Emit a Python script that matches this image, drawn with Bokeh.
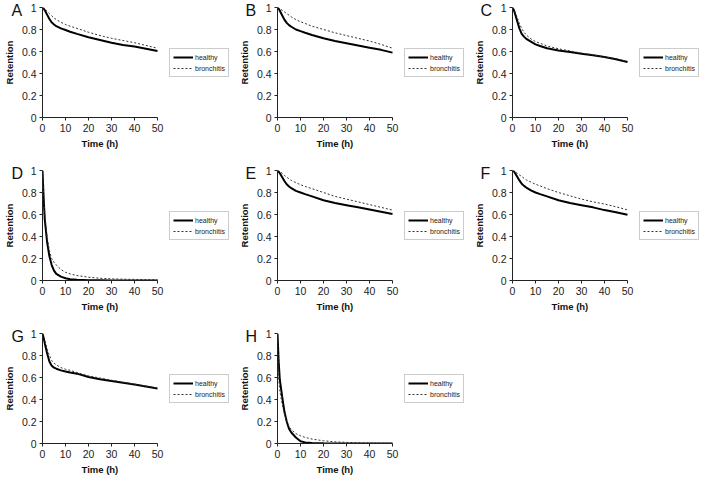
from bokeh.plotting import figure
from bokeh.models import Legend, LegendItem, FixedTicker, NumeralTickFormatter, Range1d, Title
from bokeh.layouts import column, row
from bokeh.embed import file_html
from bokeh.resources import INLINE

# ---------------- data ----------------
TIME = [0, 0.5, 1, 2, 3, 4, 5, 6, 8, 10, 12, 15, 20, 25, 30, 35, 40, 45, 50]
PANELS = ["A", "B", "C", "D", "E", "F", "G", "H"]
SERIES_NAMES = ["healthy", "bronchitis"]
X_TICKS = [0, 10, 20, 30, 40, 50]
Y_TICKS = [0, 0.2, 0.4, 0.6, 0.8, 1.0]
X_MAX = 50
X_LABEL = "Time (h)"
Y_LABEL = "Retention"

A_healthy = [1.0, 0.99, 0.975, 0.935, 0.895, 0.865, 0.845, 0.83, 0.81, 0.795, 0.78, 0.76, 0.73, 0.705, 0.68, 0.66, 0.645, 0.625, 0.605]
A_bronchitis = [1.0, 0.993, 0.985, 0.965, 0.945, 0.925, 0.905, 0.89, 0.865, 0.845, 0.83, 0.81, 0.775, 0.745, 0.72, 0.70, 0.68, 0.655, 0.63]
B_healthy = [1.0, 0.99, 0.97, 0.93, 0.89, 0.86, 0.84, 0.825, 0.80, 0.785, 0.77, 0.75, 0.72, 0.695, 0.675, 0.655, 0.635, 0.615, 0.59]
B_bronchitis = [1.0, 0.995, 0.99, 0.975, 0.96, 0.945, 0.93, 0.915, 0.89, 0.87, 0.855, 0.83, 0.80, 0.77, 0.745, 0.72, 0.695, 0.665, 0.63]
C_healthy = [1.0, 0.98, 0.95, 0.88, 0.81, 0.76, 0.735, 0.715, 0.69, 0.665, 0.65, 0.63, 0.61, 0.595, 0.58, 0.565, 0.55, 0.53, 0.505]
C_bronchitis = [1.0, 0.985, 0.965, 0.91, 0.855, 0.81, 0.775, 0.75, 0.715, 0.69, 0.675, 0.65, 0.625, 0.605, 0.585, 0.57, 0.55, 0.535, 0.51]
D_healthy = [1.0, 0.75, 0.55, 0.35, 0.22, 0.14, 0.09, 0.06, 0.035, 0.02, 0.012, 0.006, 0.003, 0.002, 0.001, 0.0, 0.0, 0.0, 0.0]
D_bronchitis = [1.0, 0.78, 0.6, 0.4, 0.27, 0.2, 0.165, 0.14, 0.1, 0.075, 0.06, 0.045, 0.03, 0.02, 0.015, 0.012, 0.01, 0.008, 0.007]
E_healthy = [1.0, 0.99, 0.975, 0.94, 0.905, 0.875, 0.855, 0.84, 0.815, 0.8, 0.785, 0.765, 0.73, 0.705, 0.685, 0.665, 0.645, 0.625, 0.605]
E_bronchitis = [1.0, 0.997, 0.99, 0.975, 0.955, 0.94, 0.925, 0.91, 0.89, 0.87, 0.855, 0.835, 0.8, 0.765, 0.74, 0.715, 0.69, 0.665, 0.64]
F_healthy = [1.0, 0.995, 0.98, 0.945, 0.91, 0.88, 0.86, 0.845, 0.82, 0.80, 0.785, 0.765, 0.73, 0.705, 0.685, 0.665, 0.64, 0.62, 0.597]
F_bronchitis = [1.0, 0.997, 0.99, 0.975, 0.96, 0.945, 0.93, 0.915, 0.895, 0.875, 0.86, 0.835, 0.80, 0.77, 0.74, 0.715, 0.695, 0.67, 0.642]
G_healthy = [1.0, 0.96, 0.91, 0.82, 0.745, 0.707, 0.69, 0.68, 0.665, 0.655, 0.645, 0.635, 0.605, 0.585, 0.569, 0.552, 0.536, 0.518, 0.5]
G_bronchitis = [1.0, 0.97, 0.94, 0.86, 0.80, 0.755, 0.73, 0.715, 0.69, 0.675, 0.665, 0.645, 0.615, 0.595, 0.575, 0.558, 0.54, 0.522, 0.505]
H_healthy = [1.0, 0.75, 0.58, 0.43, 0.29, 0.2, 0.135, 0.1, 0.055, 0.02, 0.01, 0.005, 0.002, 0.001, 0.0, 0.0, 0.0, 0.0, 0.0]
H_bronchitis = [1.0, 0.6, 0.48, 0.36, 0.27, 0.2, 0.155, 0.125, 0.09, 0.07, 0.055, 0.04, 0.025, 0.015, 0.01, 0.007, 0.005, 0.003, 0.002]

DATA = {
    "A": (A_healthy, A_bronchitis), "B": (B_healthy, B_bronchitis),
    "C": (C_healthy, C_bronchitis), "D": (D_healthy, D_bronchitis),
    "E": (E_healthy, E_bronchitis), "F": (F_healthy, F_bronchitis),
    "G": (G_healthy, G_bronchitis), "H": (H_healthy, H_bronchitis),
}

FONT = "Liberation Sans"
DATA_W = 115          # pixel width of the 0..50 plotting area
LEGEND_SPACE = 76     # extra frame width to the right that holds the legend
COL_LEFT = [34, 35, 35]
ROW_BOTTOM = [46, 46, 34]
FRAME_H = 110
TOP = 7


def make_panel(idx):
    letter = PANELS[idx]
    r_i, c_i = divmod(idx, 3)
    healthy, bronchitis = DATA[letter]
    left = COL_LEFT[c_i]
    frame_w = DATA_W + LEGEND_SPACE
    x_end = X_MAX * frame_w / DATA_W
    p = figure(frame_width=frame_w, frame_height=FRAME_H,
               x_range=Range1d(0, x_end), y_range=Range1d(0, 1),
               output_backend="svg", toolbar_location=None,
               min_border_left=left, min_border_top=TOP,
               min_border_bottom=ROW_BOTTOM[r_i], min_border_right=2)
    p.grid.visible = False
    p.outline_line_color = None
    p.background_fill_color = "white"
    p.border_fill_color = "white"

    p.title.text = letter
    p.title.align = "left"
    p.title.vertical_align = "bottom"
    p.title.offset = -(left - 3)
    p.title.standoff = -22
    p.title.text_font = FONT
    p.title.text_font_size = "16px"
    p.title.text_font_style = "normal"
    p.title.text_color = "#111111"

    r1 = p.line(TIME, healthy, line_color="black", line_width=2)
    r2 = p.line(TIME, bronchitis, line_color="#333333", line_width=1, line_dash="2 2")

    for ax in (p.xaxis[0], p.yaxis[0]):
        ax.axis_line_color = "#222222"
        ax.axis_line_width = 1
        ax.major_tick_line_color = "#222222"
        ax.major_tick_in = 0
        ax.major_tick_out = 3
        ax.minor_tick_line_color = None
        ax.major_label_text_font = FONT
        ax.major_label_text_font_size = "10.5px"
        ax.major_label_text_color = "#222222"
        ax.major_label_standoff = 3
        ax.axis_label_text_font = FONT
        ax.axis_label_text_font_style = "bold"
        ax.axis_label_text_font_size = "9.5px"
        ax.axis_label_text_color = "#111111"
        ax.axis_label_standoff = 4
    p.xaxis.bounds = (0, X_MAX)
    p.xaxis.ticker = FixedTicker(ticks=X_TICKS)
    p.yaxis.ticker = FixedTicker(ticks=Y_TICKS)
    p.yaxis.formatter = NumeralTickFormatter(format="0.[0]")
    p.yaxis.axis_label = Y_LABEL

    # x-axis title, centred under the 0..50 part of the axis
    xt = Title(text=X_LABEL, align="left", offset=DATA_W / 2 - 18.5, standoff=2,
               text_font=FONT, text_font_style="bold", text_font_size="9.5px",
               text_color="#111111")
    p.add_layout(xt, "below")

    legend = Legend(items=[LegendItem(label=SERIES_NAMES[0], renderers=[r1]),
                           LegendItem(label=SERIES_NAMES[1], renderers=[r2])],
                    location=(DATA_W + 12, 40), margin=0, padding=3, spacing=1,
                    glyph_width=20, glyph_height=10, label_height=10,
                    label_standoff=2, label_text_font=FONT,
                    label_text_font_size="7px", label_text_color="#222222",
                    border_line_color="#999999", border_line_width=1,
                    background_fill_color="white", background_fill_alpha=1)
    p.add_layout(legend)
    return p


plots = [make_panel(i) for i in range(len(PANELS))]
layout = column(row(*plots[0:3]), row(*plots[3:6]), row(plots[6], plots[7]))

open("out.html", "w").write(file_html(layout, INLINE))
